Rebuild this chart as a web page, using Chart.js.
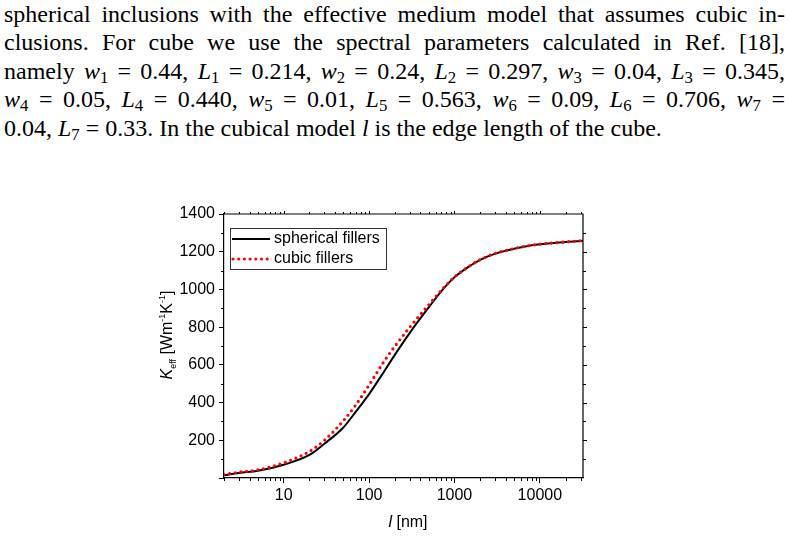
<!DOCTYPE html>
<html>
<head>
<meta charset="utf-8">
<script src="https://cdn.jsdelivr.net/npm/chart.js@4.4.1/dist/chart.umd.min.js"></script>
<style>
  body{margin:0;background:#fff;width:788px;height:537px;overflow:hidden;position:relative}
  #txt{position:absolute;left:4px;top:0;width:781px;font-family:"Liberation Serif",serif;font-size:24px;line-height:28.4px;color:#000}
  .j{text-align:justify;text-align-last:justify}
  #txt sub{font-size:0.7em;line-height:0;vertical-align:-0.25em}
  #wrap{position:absolute;left:0;top:190px;width:788px;height:347px}
</style>
</head>
<body>
<div id="txt">
  <div class="j">spherical inclusions with the effective medium model that assumes cubic in-</div>
  <div class="j">clusions. For cube we use the spectral parameters calculated in Ref. [18],</div>
  <div class="j">namely <i>w</i><sub>1</sub> = 0.44, <i>L</i><sub>1</sub> = 0.214, <i>w</i><sub>2</sub> = 0.24, <i>L</i><sub>2</sub> = 0.297, <i>w</i><sub>3</sub> = 0.04, <i>L</i><sub>3</sub> = 0.345,</div>
  <div class="j"><i>w</i><sub>4</sub> = 0.05, <i>L</i><sub>4</sub> = 0.440, <i>w</i><sub>5</sub> = 0.01, <i>L</i><sub>5</sub> = 0.563, <i>w</i><sub>6</sub> = 0.09, <i>L</i><sub>6</sub> = 0.706, <i>w</i><sub>7</sub> =</div>
  <div>0.04, <i>L</i><sub>7</sub> = 0.33. In the cubical model <i>l</i> is the edge length of the cube.</div>
</div>
<div id="wrap"><canvas id="c"></canvas></div>
<script>
// l [nm]
const lengths = [2, 3, 5, 10, 20, 30, 50, 70, 100, 150, 200, 300, 500, 700, 1000, 1500, 2000, 3000, 5000, 7000, 10000, 20000, 32000];
// K_eff [W m^-1 K^-1]
const spherical = [15, 27, 38, 70, 122, 182, 268, 352, 445, 565, 653, 770, 905, 990, 1064, 1123, 1157, 1190, 1216, 1229, 1239, 1251, 1258];
const cubic     = [18, 31, 43, 80, 141, 200, 304, 388, 493, 619, 698, 800, 918, 995, 1066, 1124, 1158, 1191, 1217, 1230, 1240, 1252, 1259];
const xTicks = [10, 100, 1000, 10000];
const yTicks = [0, 200, 400, 600, 800, 1000, 1200, 1400];
const seriesNames = ['spherical fillers', 'cubic fillers'];

const FONT = '"Liberation Sans", Arial, sans-serif';

function pts(ys){ return lengths.map((x,i)=>({x, y: ys[i]})); }

const decor = {
  id: 'decor',
  afterDraw(chart){
    const {ctx, chartArea: a} = chart;
    const xs = chart.scales.x, ys = chart.scales.y;
    ctx.save();
    ctx.strokeStyle = '#000';
    ctx.lineWidth = 1.2;
    // frame top + right
    ctx.beginPath();
    ctx.moveTo(a.left, a.top); ctx.lineTo(a.right, a.top); ctx.lineTo(a.right, a.bottom);
    ctx.stroke();
    ctx.lineWidth = 1;
    ctx.beginPath();
    // minor x ticks
    for(let d = 1; d <= 10000; d *= 10){
      for(let m = 2; m <= 9; m++){
        const v = d*m;
        if(v < 2 || v > 32000) continue;
        const px = Math.round(xs.getPixelForValue(v)) + 0.5;
        ctx.moveTo(px, a.bottom); ctx.lineTo(px, a.bottom + 3);
        ctx.moveTo(px, a.top); ctx.lineTo(px, a.top - 2);
      }
    }
    xTicks.forEach(v=>{
      const px = Math.round(xs.getPixelForValue(v)) + 0.5;
      ctx.moveTo(px, a.top); ctx.lineTo(px, a.top - 3);
    });
    // minor y ticks + right side ticks
    for(let v = 100; v < 1400; v += 100){
      const py = Math.round(ys.getPixelForValue(v)) + 0.5;
      const major = v % 200 === 0;
      if(!major){ ctx.moveTo(a.left, py); ctx.lineTo(a.left - 3, py); }
      ctx.moveTo(a.right, py); ctx.lineTo(a.right + (major ? 4 : 3), py);
    }
    ctx.stroke();

    // legend
    const lx = 230, ly = 38;
    ctx.lineWidth = 1;
    ctx.strokeStyle = '#333';
    ctx.strokeRect(lx + 0.5, ly + 0.5, 156, 41);
    ctx.strokeStyle = '#000';
    ctx.lineWidth = 2;
    ctx.beginPath(); ctx.moveTo(lx + 2, ly + 11); ctx.lineTo(lx + 40, ly + 11); ctx.stroke();
    ctx.strokeStyle = '#ff0000';
    ctx.lineWidth = 3.2;
    ctx.lineCap = 'round';
    ctx.setLineDash([0, 5.7]);
    ctx.beginPath(); ctx.moveTo(lx + 3, ly + 31); ctx.lineTo(lx + 38, ly + 31); ctx.stroke();
    ctx.setLineDash([]);
    ctx.lineCap = 'butt';
    ctx.fillStyle = '#000';
    ctx.font = '16px ' + FONT;
    ctx.textBaseline = 'middle';
    ctx.textAlign = 'left';
    ctx.fillText(seriesNames[0], lx + 44, ly + 11);
    ctx.fillText(seriesNames[1], lx + 44, ly + 31);

    // y title: K_eff [Wm^-1 K^-1]
    const parts = [
      ['K', 'italic 16px ' + FONT, 0],
      ['eff', '9px ' + FONT, 4],
      [' [Wm', '16px ' + FONT, 0],
      ['-1', '9px ' + FONT, -7],
      ['K', '16px ' + FONT, 0],
      ['-1', '9px ' + FONT, -7],
      [']', '16px ' + FONT, 0]
    ];
    ctx.textBaseline = 'alphabetic';
    let w = 0;
    parts.forEach(p=>{ ctx.font = p[1]; w += ctx.measureText(p[0]).width; });
    ctx.translate(172, 145 + w/2);
    ctx.rotate(-Math.PI/2);
    let cx = 0;
    parts.forEach(p=>{ ctx.font = p[1]; ctx.fillText(p[0], cx, p[2]); cx += ctx.measureText(p[0]).width; });
    ctx.setTransform(1,0,0,1,0,0);

    // x title: l [nm]
    ctx.textBaseline = 'middle';
    ctx.font = 'italic 16px ' + FONT;
    const w1 = ctx.measureText('l').width;
    ctx.font = '16px ' + FONT;
    const w2 = ctx.measureText(' [nm]').width;
    const sx = 408 - (w1 + w2)/2;
    ctx.font = 'italic 16px ' + FONT;
    ctx.fillText('l', sx, 333);
    ctx.font = '16px ' + FONT;
    ctx.fillText(' [nm]', sx + w1, 333);
    ctx.restore();
  }
};

new Chart(document.getElementById('c'), {
  type: 'line',
  data: {
    datasets: [
      { label: seriesNames[1], data: pts(cubic), order: 0, borderColor: '#ff0000', borderWidth: 3.2,
        borderDash: [0, 5.7], borderCapStyle: 'round', pointRadius: 0, cubicInterpolationMode: 'monotone', fill: false },
      { label: seriesNames[0], data: pts(spherical), order: 1, borderColor: '#000', borderWidth: 2,
        pointRadius: 0, cubicInterpolationMode: 'monotone', fill: false }
    ]
  },
  options: {
    responsive: true,
    maintainAspectRatio: false,
    animation: false,
    devicePixelRatio: 1,
    layout: { padding: { left: 0, right: 205, top: 24, bottom: 0 } },
    plugins: { legend: { display: false }, tooltip: { enabled: false } },
    scales: {
      x: {
        type: 'logarithmic', min: 2, max: 32000,
        afterBuildTicks: s => { s.ticks = xTicks.map(v => ({ value: v })); },
        afterFit: s => { s.height = 59; },
        grid: { drawOnChartArea: false, tickLength: 5, tickColor: '#000', tickWidth: 1 },
        border: { color: '#000', width: 1.2 },
        ticks: { color: '#000', font: { family: FONT, size: 16 }, padding: 3, maxRotation: 0, autoSkip: false,
          callback: v => String(v) }
      },
      y: {
        min: 0, max: 1400,
        afterBuildTicks: s => { s.ticks = yTicks.map(v => ({ value: v })); },
        afterFit: s => { s.width = 224; },
        grid: { drawOnChartArea: false, tickLength: 5, tickColor: '#000', tickWidth: 1 },
        border: { color: '#000', width: 1.2 },
        ticks: { color: '#000', font: { family: FONT, size: 16 }, padding: 4,
          callback: v => v === 0 ? '' : String(v) }
      }
    }
  },
  plugins: [decor]
});
</script>
</body>
</html>
